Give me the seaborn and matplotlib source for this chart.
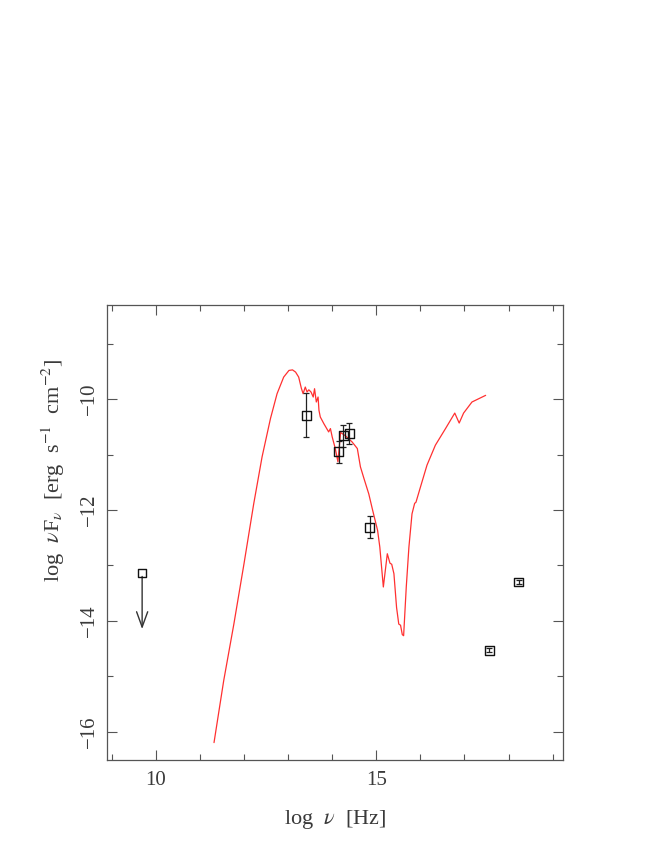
import matplotlib
matplotlib.use("Agg")
import matplotlib.pyplot as plt
import seaborn as sns
import pandas as pd
from matplotlib.ticker import MultipleLocator

# model SED (red curve)
curve_lognu = [11.32, 11.54, 11.77, 12.00, 12.22, 12.41, 12.60, 12.75, 12.90, 13.02,
               13.10, 13.17, 13.24, 13.30, 13.34, 13.39, 13.43, 13.47, 13.52, 13.57,
               13.60, 13.64, 13.68, 13.70, 13.73, 13.81, 13.92, 13.96, 14.00, 14.07,
               14.13, 14.19, 14.30, 14.45, 14.57, 14.64, 14.72, 14.83, 14.91, 15.03,
               15.08, 15.16, 15.25, 15.31, 15.35, 15.40, 15.46, 15.51, 15.55, 15.59,
               15.62, 15.68, 15.74, 15.81, 15.87, 15.90, 16.00, 16.15, 16.34, 16.57,
               16.78, 16.88, 16.98, 17.17, 17.48]
curve_lognuf = [-16.20, -15.08, -14.06, -12.97, -11.89, -11.04, -10.35, -9.90, -9.60, -9.48,
                -9.47, -9.51, -9.60, -9.80, -9.90, -9.78, -9.87, -9.83, -9.87, -9.96,
                -9.81, -10.05, -9.96, -10.20, -10.32, -10.44, -10.59, -10.53, -10.68, -10.89,
                -11.13, -10.60, -10.66, -10.77, -10.89, -11.22, -11.43, -11.71, -11.98, -12.37,
                -12.67, -13.39, -12.79, -12.96, -12.98, -13.15, -13.76, -14.06, -14.08, -14.25,
                -14.27, -13.39, -12.67, -12.07, -11.88, -11.86, -11.59, -11.19, -10.83, -10.53,
                -10.25, -10.43, -10.25, -10.05, -9.93]

# observed points
obs_lognu = [13.41, 14.15, 14.25, 14.39, 14.85, 17.56, 18.23]
obs_lognuf = [-10.29, -10.95, -10.66, -10.62, -12.31, -14.53, -13.30]
obs_err = [0.40, 0.20, 0.20, 0.19, 0.20, 0.04, 0.04]

# upper limit (radio)
ul_lognu = [9.69]
ul_lognuf = [-13.13]
ul_arrow = 1.02

sns.set_style("ticks")
plt.rcParams["font.family"] = ["Liberation Serif", "DejaVu Serif"]
plt.rcParams["mathtext.fontset"] = "stix"

gray = "#555555"
txt = "#3a3a3a"

fig = plt.figure(figsize=(6.64, 8.60), dpi=100)
ax = fig.add_axes([0.1616, 0.1159, 0.686, 0.530])

model = pd.DataFrame({"x": curve_lognu, "y": curve_lognuf})
sns.lineplot(data=model, x="x", y="y", ax=ax, color="#ff3030", lw=0.9,
             sort=False, estimator=None)

obs = pd.DataFrame({"x": obs_lognu, "y": obs_lognuf, "err": obs_err})
ax.errorbar(obs["x"], obs["y"], yerr=obs["err"], fmt="none", ecolor="#222222",
            elinewidth=0.9, capsize=2.3, capthick=0.9, zorder=3)
sns.scatterplot(data=obs, x="x", y="y", ax=ax, marker="s", s=40,
                facecolor="none", edgecolor="#111111", linewidth=1.0, zorder=4)

ul = pd.DataFrame({"x": ul_lognu, "y": ul_lognuf})
sns.scatterplot(data=ul, x="x", y="y", ax=ax, marker="s", s=34,
                facecolor="none", edgecolor="#111111", linewidth=1.0, zorder=4)
for xv, yv in zip(ul_lognu, ul_lognuf):
    ax.annotate("", xy=(xv, yv - ul_arrow), xytext=(xv, yv - 0.07),
                arrowprops=dict(arrowstyle="->,head_length=1.1,head_width=0.4",
                                color="#333333", lw=1.0, shrinkA=0, shrinkB=0))

ax.set_xlim(8.9, 19.23)
ax.set_ylim(-16.52, -8.29)

ax.xaxis.set_major_locator(MultipleLocator(5))
ax.xaxis.set_minor_locator(MultipleLocator(1))
ax.yaxis.set_major_locator(MultipleLocator(2))
ax.yaxis.set_minor_locator(MultipleLocator(1))
ax.tick_params(which="both", direction="in", top=True, right=True,
               color=gray, labelcolor=txt, labelsize=15)
ax.tick_params(axis="x", pad=8)
ax.tick_params(axis="y", pad=6)
ax.tick_params(which="major", length=7, width=0.8)
ax.tick_params(which="minor", length=4, width=0.8)
ax.tick_params(axis="y", labelrotation=90)
for lab in ax.get_yticklabels():
    lab.set_va("center")

for sp in ax.spines.values():
    sp.set_color(gray)
    sp.set_linewidth(0.9)
    sp.set_visible(True)

ax.set_xlabel(r"log  $\nu$  [Hz]", fontsize=16, color=txt)
ax.set_ylabel(r"log  $\nu$F$_\nu$  [erg  s$^{-1}$  cm$^{-2}$]", fontsize=16, color=txt)
ax.xaxis.set_label_coords(0.5, -0.105)
ax.yaxis.set_label_coords(-0.088, 0.637)

fig.savefig("out.png", dpi=100)
